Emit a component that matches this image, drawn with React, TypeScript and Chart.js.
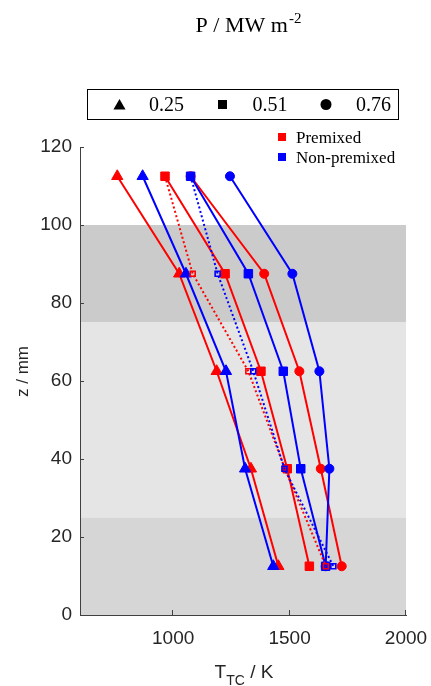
import React, { useEffect, useRef } from 'react';
import { Chart, registerables } from 'chart.js';

Chart.register(...registerables);

// ---- data ----
const zPositions = [112.5, 87.5, 62.5, 37.5, 12.5];
const premixed025 = [760, 1026, 1187, 1334, 1452];
const nonPremixed025 = [869, 1055, 1227, 1309, 1430];
const premixed051 = [965, 1223, 1377, 1490, 1585];
const nonPremixed051 = [1075, 1323, 1473, 1548, 1655];
const premixed076 = [1075, 1391, 1542, 1634, 1724];
const nonPremixed076 = [1244, 1512, 1628, 1671, 1655];
const premixedDotted = [965, 1084, 1323, 1480, 1656];
const nonPremixedDotted = [1075, 1191, 1344, 1478, 1688];
const xTicks = [1000, 1500, 2000];
const yTicks = [0, 20, 40, 60, 80, 100, 120];
const bandLimits = [[75, 100], [25, 75], [0, 25]];
const bandColors = ['#cbcbcb', '#e5e5e5', '#d6d6d6'];
const powerLabels = ['0.25', '0.51', '0.76'];
const typeLabels = ['Premixed', 'Non-premixed'];

const RED = '#ff0000';
const BLUE = '#0000ff';
const SERIF = '"Liberation Serif", "Times New Roman", serif';
const SANS = '"Liberation Sans", Arial, sans-serif';

function series(vals: number[], color: string, style: string, radius: number, dotted = false) {
  return {
    data: vals.map((v, i) => ({ x: v, y: zPositions[i] })),
    borderColor: color,
    backgroundColor: color,
    borderWidth: 2,
    borderDash: dotted ? [2, 2.5] : [],
    showLine: true,
    fill: false,
    tension: 0,
    pointStyle: style,
    pointRadius: radius,
    pointBorderWidth: dotted ? 1.6 : 1,
    pointBorderColor: color,
    pointBackgroundColor: dotted ? 'rgba(0,0,0,0)' : color,
  };
}

function drawTriangle(ctx: CanvasRenderingContext2D, x: number, y: number, r: number) {
  ctx.beginPath();
  ctx.moveTo(x, y - r);
  ctx.lineTo(x + r * Math.sqrt(3) / 2, y + r / 2);
  ctx.lineTo(x - r * Math.sqrt(3) / 2, y + r / 2);
  ctx.closePath();
  ctx.fill();
}

const decorPlugin = {
  id: 'decor',
  beforeDraw(chart: any) {
    const { ctx, chartArea, scales } = chart;
    ctx.save();
    bandLimits.forEach(([a, b], i) => {
      const y1 = scales.y.getPixelForValue(b);
      const y2 = scales.y.getPixelForValue(a);
      ctx.fillStyle = bandColors[i];
      ctx.fillRect(chartArea.left, y1, chartArea.right - chartArea.left, y2 - y1);
    });
    ctx.restore();
  },
  beforeDatasetsDraw(chart: any) {
    const { ctx, chartArea, scales } = chart;
    ctx.save();
    ctx.strokeStyle = '#404040';
    ctx.lineWidth = 1;
    yTicks.forEach((v) => {
      const y = Math.round(scales.y.getPixelForValue(v)) + 0.5;
      ctx.beginPath();
      ctx.moveTo(chartArea.left, y);
      ctx.lineTo(chartArea.left + 4, y);
      ctx.stroke();
    });
    xTicks.forEach((v) => {
      const x = Math.round(scales.x.getPixelForValue(v)) - 0.5;
      ctx.beginPath();
      ctx.moveTo(x, chartArea.bottom);
      ctx.lineTo(x, chartArea.bottom - 5);
      ctx.stroke();
    });
    ctx.restore();
  },
  afterDraw(chart: any) {
    const { ctx } = chart;
    ctx.save();
    ctx.fillStyle = '#000';
    ctx.textBaseline = 'alphabetic';
    ctx.textAlign = 'left';

    // Title P / MW m^-2
    ctx.font = `22px ${SERIF}`;
    const tMain = 'P / MW m';
    const w1 = ctx.measureText(tMain).width;
    ctx.font = `15px ${SERIF}`;
    const w2 = ctx.measureText('-2').width;
    const tx = 248 - (w1 + w2) / 2;
    ctx.font = `22px ${SERIF}`;
    ctx.fillText(tMain, tx, 32);
    ctx.font = `15px ${SERIF}`;
    ctx.fillText('-2', tx + w1 + 1, 23);

    // Power legend box
    ctx.strokeStyle = '#000';
    ctx.lineWidth = 1;
    ctx.strokeRect(87.5, 89.5, 311, 30);
    ctx.fillStyle = '#000';
    drawTriangle(ctx, 119.5, 106, 7);
    ctx.fillRect(218, 100, 9, 9);
    ctx.beginPath();
    ctx.arc(326, 104.5, 5.5, 0, Math.PI * 2);
    ctx.fill();
    ctx.font = `20px ${SERIF}`;
    const lx = [149, 252.5, 356];
    powerLabels.forEach((t, i) => ctx.fillText(t, lx[i], 111));

    // Premixed / Non-premixed legend
    ctx.fillStyle = RED;
    ctx.fillRect(278, 133, 8, 8);
    ctx.fillStyle = BLUE;
    ctx.fillRect(278, 153, 8, 8);
    ctx.fillStyle = '#000';
    ctx.font = `17px ${SERIF}`;
    ctx.fillText(typeLabels[0], 296, 143);
    ctx.fillText(typeLabels[1], 296, 163);

    // X axis label T_TC / K
    ctx.fillStyle = '#262626';
    ctx.font = `19px ${SANS}`;
    const a = ctx.measureText('T').width;
    ctx.font = `14px ${SANS}`;
    const b = ctx.measureText('TC').width;
    ctx.font = `19px ${SANS}`;
    const c = ctx.measureText(' / K').width;
    const xl = 244 - (a + b + c) / 2;
    ctx.fillText('T', xl, 678);
    ctx.font = `14px ${SANS}`;
    ctx.fillText('TC', xl + a, 685);
    ctx.font = `19px ${SANS}`;
    ctx.fillText(' / K', xl + a + b, 678);

    // Y axis label
    ctx.translate(28, 371.5);
    ctx.rotate(-Math.PI / 2);
    ctx.textAlign = 'center';
    ctx.font = `17px ${SANS}`;
    ctx.fillText('z / mm', 0, 0);
    ctx.restore();
  },
};

export default function App() {
  const ref = useRef<HTMLCanvasElement>(null);
  useEffect(() => {
    if (!ref.current) return;
    const chart = new Chart(ref.current, {
      type: 'scatter',
      data: {
        datasets: [
          series(nonPremixedDotted, BLUE, 'rect', 3.5, true),
          series(premixedDotted, RED, 'rect', 3.5, true),
          series(nonPremixed025, BLUE, 'triangle', 6.5),
          series(nonPremixed051, BLUE, 'rect', 6),
          series(nonPremixed076, BLUE, 'circle', 4.5),
          series(premixed025, RED, 'triangle', 6.5),
          series(premixed051, RED, 'rect', 6),
          series(premixed076, RED, 'circle', 4.5),
        ] as any,
      },
      options: {
        responsive: false,
        animation: false,
        devicePixelRatio: 1,
        layout: { padding: { top: 147, right: 25, left: 0, bottom: 0 } },
        plugins: {
          legend: { display: false },
          tooltip: { enabled: false },
          title: { display: false },
        },
        scales: {
          x: {
            type: 'linear',
            min: 600,
            max: 2000,
            afterBuildTicks: (s: any) => {
              s.ticks = xTicks.map((v) => ({ value: v }));
            },
            afterFit: (s: any) => {
              s.height = 71;
              s.paddingLeft = 0;
              s.paddingRight = 0;
            },
            grid: { display: false, drawTicks: false },
            border: { display: true, color: '#404040', width: 1 },
            ticks: {
              font: { family: SANS, size: 19 },
              color: '#262626',
              padding: 12,
              maxRotation: 0,
              autoSkip: false,
              callback: (v: any) => String(v),
            },
          },
          y: {
            type: 'linear',
            min: 0,
            max: 120,
            afterBuildTicks: (s: any) => {
              s.ticks = yTicks.map((v) => ({ value: v }));
            },
            afterFit: (s: any) => {
              s.width = 80;
              s.paddingTop = 0;
              s.paddingBottom = 0;
            },
            grid: { display: false, drawTicks: false },
            border: { display: true, color: '#404040', width: 1 },
            ticks: {
              font: { family: SANS, size: 19 },
              color: '#262626',
              padding: 8,
              autoSkip: false,
              callback: (v: any) => String(v),
            },
          },
        },
      } as any,
      plugins: [decorPlugin],
    });
    return () => chart.destroy();
  }, []);
  return (
    <div style={{ position: 'fixed', left: 0, top: 0, width: 431, height: 686, background: '#fff' }}>
      <canvas ref={ref} width={431} height={686} style={{ display: 'block', width: 431, height: 686 }} />
    </div>
  );
}
